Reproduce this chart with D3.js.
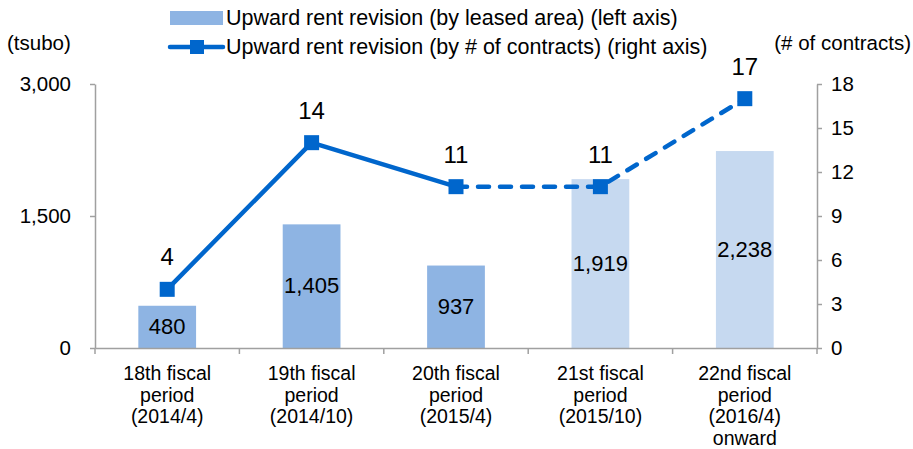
<!DOCTYPE html>
<html><head><meta charset="utf-8">
<script src="https://cdn.jsdelivr.net/npm/d3@7"></script>
<style>body{margin:0;background:#fff}svg{font-family:"Liberation Sans",Arial,sans-serif}</style>
</head><body><svg id="c" width="913" height="449"></svg>
<script>
const categories = [
  ["18th fiscal","period","(2014/4)"],
  ["19th fiscal","period","(2014/10)"],
  ["20th fiscal","period","(2015/4)"],
  ["21st fiscal","period","(2015/10)"],
  ["22nd fiscal","period","(2016/4)","onward"]
];
const areaValues = [480, 1405, 937, 1919, 2238];
const contractValues = [4, 14, 11, 11, 17];
const forecast = [false, false, false, true, true];
const leftTicks = [0, 1500, 3000];
const rightTicks = [0, 3, 6, 9, 12, 15, 18];
const legendLabels = ["Upward rent revision (by leased area) (left axis)","Upward rent revision (by # of contracts) (right axis)"];

const svg = d3.select("#c");
const L = 95, R = 817, T = 84, B = 348;
const idx = d3.range(categories.length);
const x = d3.scaleBand().domain(idx).range([L, R]).paddingInner(0.6).paddingOuter(0.3);
const xb = d3.scaleBand().domain(idx).range([L, R]);
const yL = d3.scaleLinear().domain([0, 3000]).range([B, T]);
const yR = d3.scaleLinear().domain([0, 18]).range([B, T]);
const axisCol = "#a0a0a0";
const lineCol = "#0066cc";

// bars
svg.selectAll("rect.bar").data(idx).enter().append("rect")
  .attr("x", i => x(i)).attr("width", x.bandwidth())
  .attr("y", i => yL(areaValues[i])).attr("height", i => B - yL(areaValues[i]))
  .attr("fill", i => forecast[i] ? "#c6d9f0" : "#8eb4e3");

// axes
const fmt = d3.format(",");
const gL = svg.append("g").attr("transform", `translate(${L},0)`)
  .call(d3.axisLeft(yL).tickValues(leftTicks).tickFormat(fmt).tickSize(5).tickSizeOuter(0).tickPadding(19));
const gR = svg.append("g").attr("transform", `translate(${R},0)`)
  .call(d3.axisRight(yR).tickValues(rightTicks).tickSize(5).tickSizeOuter(0).tickPadding(9));
const gX = svg.append("g").attr("transform", `translate(0,${B})`)
  .call(d3.axisBottom(xb).tickValues([]).tickSizeOuter(0));
[gL, gR, gX].forEach(g => {
  g.selectAll("path,line").attr("stroke", axisCol).attr("stroke-width", 1.5);
  g.selectAll("text").attr("fill", "#000").style("font-size", "20.5px").style("font-family", "Liberation Sans, Arial, sans-serif");
});
// x boundary ticks
svg.selectAll("line.xt").data(d3.range(categories.length + 1)).enter().append("line")
  .attr("x1", i => L + i * xb.step()).attr("x2", i => L + i * xb.step())
  .attr("y1", B).attr("y2", B + 6).attr("stroke", axisCol).attr("stroke-width", 1.5);

// x labels
idx.forEach(i => {
  const t = svg.append("text").attr("x", xb(i) + xb.bandwidth() / 2).attr("y", 380)
    .attr("text-anchor", "middle").style("font-size", "19.5px").attr("fill", "#000");
  categories[i].forEach((s, k) => t.append("tspan").attr("x", xb(i) + xb.bandwidth() / 2).attr("dy", k ? 21.7 : 0).text(s));
});

// bar labels
svg.selectAll("text.bl").data(idx).enter().append("text")
  .attr("x", i => x(i) + x.bandwidth() / 2)
  .attr("y", i => (yL(areaValues[i]) + B) / 2 + 7)
  .attr("text-anchor", "middle").style("font-size", "22px").text(i => fmt(areaValues[i]));

// line
const cx = i => x(i) + x.bandwidth() / 2;
const line = d3.line().x(i => cx(i)).y(i => yR(contractValues[i]));
svg.append("path").attr("d", line([0, 1, 2])).attr("fill", "none").attr("stroke", lineCol).attr("stroke-width", 4.5).attr("stroke-linejoin", "round");
svg.append("path").attr("d", line([2, 3, 4])).attr("fill", "none").attr("stroke", lineCol).attr("stroke-width", 4.5)
  .attr("stroke-dasharray", "11,11").attr("stroke-linecap", "round").attr("stroke-linejoin", "round");
svg.selectAll("rect.mk").data(idx).enter().append("rect")
  .attr("x", i => cx(i) - 7.5).attr("y", i => yR(contractValues[i]) - 7.5)
  .attr("width", 15).attr("height", 15).attr("fill", lineCol);
svg.selectAll("text.ll").data(idx).enter().append("text")
  .attr("x", i => cx(i)).attr("y", i => yR(contractValues[i]) - 24)
  .attr("text-anchor", "middle").style("font-size", "24px").text(i => contractValues[i]);

// axis titles
svg.append("text").attr("x", 7).attr("y", 50).style("font-size", "20.5px").text("(tsubo)");
svg.append("text").attr("x", 911).attr("y", 50).attr("text-anchor", "end").style("font-size", "20.5px").text("(# of contracts)");

// legend
svg.append("rect").attr("x", 170).attr("y", 11).attr("width", 53).attr("height", 14).attr("fill", "#8eb4e3");
svg.append("text").attr("x", 226).attr("y", 25).style("font-size", "21.5px").text(legendLabels[0]);
svg.append("line").attr("x1", 170).attr("x2", 223).attr("y1", 47).attr("y2", 47).attr("stroke", lineCol).attr("stroke-width", 4.5).attr("stroke-linecap", "round");
svg.append("rect").attr("x", 190).attr("y", 40).attr("width", 14).attr("height", 14).attr("fill", lineCol);
svg.append("text").attr("x", 226).attr("y", 54).style("font-size", "21.5px").text(legendLabels[1]);
</script></body></html>
